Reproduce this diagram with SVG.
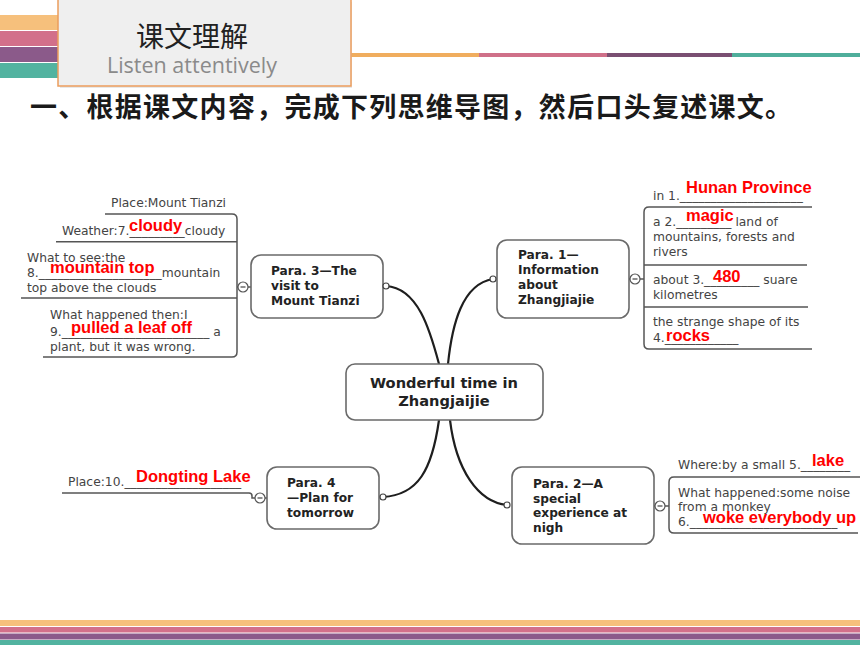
<svg xmlns="http://www.w3.org/2000/svg" width="860" height="645" viewBox="0 0 860 645">
<style>
.g{font-family:"DejaVu Sans",Verdana,sans-serif;font-size:12.3px;fill:#444}
.b{font-family:"DejaVu Sans",Verdana,sans-serif;font-size:12.2px;font-weight:bold;fill:#222}
.c{font-family:"DejaVu Sans",Verdana,sans-serif;font-size:14.6px;font-weight:bold;fill:#222;text-anchor:middle}
.r{font-family:"Liberation Sans",Arial,sans-serif;font-size:16.5px;font-weight:bold;fill:#f00}
.box{fill:#fff;stroke:#6a6a6a;stroke-width:1.6}
.ln{fill:none;stroke:#555;stroke-width:1.5}
.con{fill:none;stroke:#1e1e1e;stroke-width:2.2;stroke-linecap:round}
.dot{fill:#fff;stroke:#444;stroke-width:1.2}
.col{fill:#fff;stroke:#555;stroke-width:1.2}
</style>
<defs>
<g id="minus"><circle class="col" r="5"/><path d="M-2.5,0H2.5" stroke="#444" stroke-width="1.2"/></g>
</defs>
<rect width="860" height="645" fill="#fff"/>
<!-- header stripes -->
<g id="header">
<rect x="0" y="15" width="60" height="15" fill="#f6c07c"/>
<rect x="0" y="31" width="60" height="15" fill="#d2708a"/>
<rect x="0" y="47" width="60" height="15" fill="#8b5a8a"/>
<rect x="0" y="63" width="60" height="15" fill="#52b3a0"/>
<rect x="351" y="53" width="128" height="4" fill="#f0ad5e"/>
<rect x="479" y="53" width="128" height="4" fill="#cf7089"/>
<rect x="607" y="53" width="125" height="4" fill="#7a4f72"/>
<rect x="732" y="53" width="128" height="4" fill="#4fae9b"/>
<rect x="60" y="2" width="292" height="86" fill="#d8d8d8" opacity="0.6"/>
<rect x="58" y="-2" width="293" height="88" fill="#efefef" stroke="#ec9d5c" stroke-width="1.5"/>
<text x="192" y="47" text-anchor="middle" font-family="'Noto Sans CJK SC',sans-serif" font-size="28" fill="#222">课文理解</text>
<text x="192" y="73" text-anchor="middle" font-family="'Open Sans',sans-serif" font-size="21.5" fill="#8a8a8a">Listen attentively</text>
</g>
<text x="30" y="117" font-family="'Noto Sans CJK SC',sans-serif" font-size="27" font-weight="bold" fill="#1a1a1a" textLength="762" lengthAdjust="spacing">一、根据课文内容，完成下列思维导图，然后口头复述课文。</text>
<!-- bottom stripes -->
<rect x="0" y="620" width="860" height="6" fill="#f6c07c"/>
<rect x="0" y="627" width="860" height="5.5" fill="#d2708a"/>
<rect x="0" y="633.5" width="860" height="6" fill="#8b5a8a"/>
<rect x="0" y="640" width="860" height="5" fill="#52b3a0"/>

<!-- connectors -->
<g id="connectors">
<path class="con" d="M386,286 C418,288 430,330 439,364"/>
<path class="con" d="M493,279 C462,284 452,325 448,364"/>
<path class="con" d="M439,420 C432,470 418,495 383,497"/>
<path class="con" d="M450,420 C456,470 478,502 507,505"/>
<!-- brackets -->
<path class="ln" d="M105,214 H232 Q237,214 237,219 V352 Q237,357 232,357 H43"/>
<path class="ln" d="M56,241.7 H237 M21,298 H237 M237,287 H238 M248,287 H251"/>
<path class="ln" d="M812,207 H649 Q644,207 644,212 V344 Q644,349 649,349 H812"/>
<path class="ln" d="M644,265 H807 M644,307 H808 M629,279 H630 M640,279 H644"/>
<path class="ln" d="M860,477 H674 Q669,477 669,482 V528 Q669,533 674,533 H858"/>
<path class="ln" d="M654,506 H655 M665,506 H669"/>
<path class="ln" d="M62,493 H249 Q252,493 252,496 V498 H255 M265,498 H267"/>
</g>

<!-- center -->
<g id="center">
<rect class="box" x="346" y="364" width="197" height="56" rx="9"/>
<text class="c" x="444" y="388">Wonderful time in</text>
<text class="c" x="444" y="406">Zhangjaijie</text>
</g>

<!-- Para 3 -->
<g id="para3">
<rect class="box" x="251" y="255" width="132" height="63" rx="10"/>
<text class="b" x="271" y="275">Para. 3—The</text>
<text class="b" x="271" y="290">visit to</text>
<text class="b" x="271" y="305">Mount Tianzi</text>
<circle class="dot" cx="386" cy="286" r="3"/>
<use href="#minus" x="243" y="287"/>
</g>
<g id="para3-items">
<text class="g" x="111" y="207">Place:Mount Tianzi</text>
<text class="g" x="62" y="235">Weather:7._________cloudy</text>
<text class="g" x="27" y="262">What to see:the</text>
<text class="g" x="27" y="277">8.____________________mountain</text>
<text class="g" x="27" y="292">top above the clouds</text>
<text class="g" x="50" y="319">What happened then:I</text>
<text class="g" x="50" y="336">9.________________________ a</text>
<text class="g" x="50" y="351">plant, but it was wrong.</text>
<text class="r" x="129" y="231">cloudy</text>
<text class="r" x="50" y="273">mountain top</text>
<text class="r" x="71" y="333">pulled a leaf off</text>
</g>

<!-- Para 1 -->
<g id="para1">
<rect class="box" x="497" y="240" width="132" height="78" rx="10"/>
<text class="b" x="518" y="259">Para. 1—</text>
<text class="b" x="518" y="274">Information</text>
<text class="b" x="518" y="289">about</text>
<text class="b" x="518" y="304">Zhangjiajie</text>
<circle class="dot" cx="493" cy="279" r="3"/>
<use href="#minus" x="635" y="279"/>
</g>
<g id="para1-items">
<text class="g" x="653" y="200">in 1.____________________</text>
<text class="g" x="653" y="226">a 2._________ land of</text>
<text class="g" x="653" y="241">mountains, forests and</text>
<text class="g" x="653" y="256">rivers</text>
<text class="g" x="653" y="284">about 3._________ suare</text>
<text class="g" x="653" y="299">kilometres</text>
<text class="g" x="653" y="326">the strange shape of its</text>
<text class="g" x="653" y="342">4.____________</text>
<text class="r" x="686" y="193">Hunan Province</text>
<text class="r" x="686" y="221">magic</text>
<text class="r" x="713" y="282">480</text>
<text class="r" x="666" y="341">rocks</text>
</g>

<!-- Para 4 -->
<g id="para4">
<rect class="box" x="267" y="467" width="112" height="62" rx="10"/>
<text class="b" x="287" y="487">Para. 4</text>
<text class="b" x="287" y="502">—Plan for</text>
<text class="b" x="287" y="517">tomorrow</text>
<circle class="dot" cx="383" cy="497" r="3"/>
<use href="#minus" x="260" y="498"/>
</g>
<g id="para4-items">
<text class="g" x="68" y="486">Place:10.___________________</text>
<text class="r" x="136" y="482">Dongting Lake</text>
</g>

<!-- Para 2 -->
<g id="para2">
<rect class="box" x="512" y="467" width="142" height="77" rx="10"/>
<text class="b" x="533" y="488">Para. 2—A</text>
<text class="b" x="533" y="503">special</text>
<text class="b" x="533" y="517">experience at</text>
<text class="b" x="533" y="532">nigh</text>
<circle class="dot" cx="507" cy="505" r="3"/>
<use href="#minus" x="660" y="506"/>
</g>
<g id="para2-items">
<text class="g" x="678" y="469">Where:by a small 5.________</text>
<text class="g" x="678" y="497">What happened:some noise</text>
<text class="g" x="678" y="511">from a monkey</text>
<text class="g" x="678" y="526">6.________________________</text>
<text class="r" x="812" y="466">lake</text>
<text class="r" x="703" y="523">woke everybody up</text>
</g>
</svg>
